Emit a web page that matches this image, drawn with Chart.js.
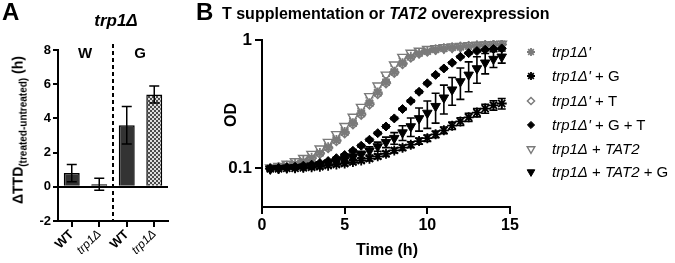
<!DOCTYPE html>
<html>
<head>
<meta charset="utf-8">
<script src="https://cdn.jsdelivr.net/npm/chart.js@4.4.1/dist/chart.umd.min.js"></script>
<style>
  body { margin: 0; background: #fff; font-family: "Liberation Sans", Arial, sans-serif; }
  #wrap { position: relative; width: 675px; height: 263px; overflow: hidden; }
  .abs { position: absolute; white-space: nowrap; color: #000; }
  .b { font-weight: bold; }
  .i { font-style: italic; }
  #legend .row { position: absolute; left: 522px; width: 153px; height: 20px; font-size: 15px; line-height: 20px; white-space: nowrap; }
  #legend canvas { position: absolute; left: 0; top: 0; }
  #legend span.t { position: absolute; left: 30px; top: 0; white-space: nowrap; }
</style>
</head>
<body>
<div id="wrap">
  <div style="position:absolute;left:0;top:0;width:195px;height:263px"><canvas id="chartA"></canvas></div>
  <div style="position:absolute;left:195px;top:0;width:330px;height:263px"><canvas id="chartB"></canvas></div>

  <div class="abs b" style="left:2px;top:-2px;font-size:24px">A</div>
  <div class="abs b i" style="left:116px;top:11px;font-size:17px;transform:translateX(-50%)">trp1Δ</div>
  <div class="abs b" style="left:85px;top:44px;font-size:15px;transform:translateX(-50%)">W</div>
  <div class="abs b" style="left:140px;top:44px;font-size:15px;transform:translateX(-50%)">G</div>
  <div class="abs b" style="left:19px;top:130px;font-size:14px;transform:translate(-50%,-50%) rotate(-90deg)">ΔTTD<sub style="font-size:10px">(treated-untreated)</sub> (h)</div>

  <div class="abs b" style="left:196px;top:-2px;font-size:24px">B</div>
  <div class="abs b" style="left:222px;top:5px;font-size:16px">T supplementation or <span class="i">TAT2</span> overexpression</div>
  <div class="abs b" style="left:231px;top:115px;font-size:16px;transform:translate(-50%,-50%) rotate(-90deg)">OD</div>
  <div class="abs b" style="left:387px;top:241px;font-size:16px;transform:translateX(-50%)">Time (h)</div>

  <div id="legend"></div>
</div>
<script>
// panel A
const groupsA = ["WT", "trp1Δ", "WT", "trp1Δ"];
const meanA = [0.8, 0.15, 3.6, 5.4];
const errA = [0.5, 0.35, 1.1, 0.5];

// panel B
const times = [0.5, 1, 1.5, 2, 2.5, 3, 3.5, 4, 4.5, 5, 5.5, 6, 6.5, 7, 7.5, 8, 8.5, 9, 9.5, 10, 10.5, 11, 11.5, 12, 12.5, 13, 13.5, 14, 14.5];
const trp = [0.100, 0.102, 0.105, 0.109, 0.114, 0.121, 0.132, 0.146, 0.166, 0.192, 0.225, 0.268, 0.322, 0.390, 0.470, 0.565, 0.660, 0.740, 0.790, 0.820, 0.845, 0.860, 0.875, 0.885, 0.895, 0.905, 0.912, 0.918, 0.925];
const trpErr = [0.002, 0.002, 0.003, 0.003, 0.003, 0.004, 0.004, 0.005, 0.006, 0.007, 0.008, 0.010, 0.012, 0.014, 0.016, 0.018, 0.020, 0.020, 0.018, 0.016, 0.015, 0.014, 0.013, 0.012, 0.012, 0.011, 0.011, 0.010, 0.010];
const trpG = [0.099, 0.099, 0.100, 0.100, 0.101, 0.102, 0.103, 0.105, 0.107, 0.109, 0.112, 0.115, 0.119, 0.124, 0.130, 0.138, 0.145, 0.153, 0.163, 0.172, 0.184, 0.198, 0.215, 0.232, 0.250, 0.272, 0.292, 0.310, 0.320];
const trpGErr = [0.002, 0.002, 0.002, 0.002, 0.002, 0.003, 0.003, 0.003, 0.003, 0.004, 0.004, 0.004, 0.005, 0.005, 0.006, 0.006, 0.007, 0.008, 0.009, 0.010, 0.011, 0.012, 0.014, 0.016, 0.018, 0.020, 0.023, 0.026, 0.030];
const trpT = [0.100, 0.102, 0.104, 0.108, 0.113, 0.120, 0.130, 0.144, 0.163, 0.188, 0.221, 0.262, 0.315, 0.380, 0.460, 0.555, 0.650, 0.730, 0.785, 0.815, 0.840, 0.858, 0.872, 0.883, 0.893, 0.902, 0.910, 0.916, 0.922];
const trpTErr = [0.002, 0.002, 0.002, 0.003, 0.003, 0.003, 0.004, 0.004, 0.005, 0.006, 0.007, 0.008, 0.010, 0.012, 0.014, 0.016, 0.017, 0.017, 0.016, 0.015, 0.014, 0.013, 0.012, 0.012, 0.011, 0.011, 0.010, 0.010, 0.010];
const trpGT = [0.100, 0.101, 0.102, 0.103, 0.105, 0.107, 0.110, 0.114, 0.120, 0.127, 0.137, 0.150, 0.167, 0.188, 0.212, 0.245, 0.290, 0.335, 0.395, 0.460, 0.535, 0.600, 0.665, 0.740, 0.790, 0.820, 0.840, 0.850, 0.860];
const trpGTErr = [0.001, 0.001, 0.001, 0.001, 0.002, 0.002, 0.002, 0.002, 0.002, 0.003, 0.003, 0.003, 0.004, 0.004, 0.005, 0.005, 0.006, 0.007, 0.008, 0.009, 0.010, 0.011, 0.012, 0.012, 0.012, 0.011, 0.010, 0.010, 0.010];
const tat2 = [0.101, 0.104, 0.108, 0.113, 0.120, 0.129, 0.142, 0.160, 0.184, 0.213, 0.251, 0.300, 0.364, 0.440, 0.535, 0.641, 0.736, 0.791, 0.822, 0.846, 0.859, 0.874, 0.885, 0.895, 0.907, 0.913, 0.918, 0.924, 0.930];
const tat2Err = [0.002, 0.002, 0.002, 0.003, 0.003, 0.003, 0.004, 0.004, 0.005, 0.006, 0.007, 0.008, 0.009, 0.010, 0.012, 0.013, 0.013, 0.012, 0.011, 0.010, 0.010, 0.009, 0.009, 0.009, 0.008, 0.008, 0.008, 0.008, 0.008];
const tat2G = [0.099, 0.100, 0.101, 0.102, 0.103, 0.105, 0.107, 0.110, 0.113, 0.117, 0.122, 0.128, 0.137, 0.148, 0.160, 0.172, 0.190, 0.212, 0.245, 0.270, 0.305, 0.355, 0.410, 0.475, 0.535, 0.600, 0.665, 0.710, 0.740];
const tat2GErr = [0.002, 0.002, 0.002, 0.003, 0.003, 0.003, 0.004, 0.004, 0.005, 0.006, 0.007, 0.008, 0.010, 0.012, 0.015, 0.018, 0.025, 0.035, 0.050, 0.065, 0.080, 0.090, 0.100, 0.130, 0.140, 0.140, 0.120, 0.100, 0.080];

const xTicksB = [0, 5, 10, 15];
const yTicksB = [0.1, 1];

const GREY = "#7a7a7a";

function checkerPattern() {
  const c = document.createElement("canvas");
  c.width = 4;
  c.height = 4;
  const g = c.getContext("2d");
  g.fillStyle = "#dcdcdc";
  g.fillRect(0, 0, 4, 4);
  g.fillStyle = "#4a4a4a";
  g.fillRect(0, 0, 2, 2);
  g.fillRect(2, 2, 2, 2);
  return c.getContext("2d").createPattern(c, "repeat");
}

// error bars drawn from dataset.errors through the chart scales
const errorBars = {
  id: "errorBars",
  beforeDatasetDraw(chart, args) {
    const ds = chart.data.datasets[args.index];
    if (!ds.errors) return;
    const meta = args.meta;
    const ys = chart.scales[meta.yAxisID];
    const ctx = chart.ctx;
    ctx.save();
    ctx.strokeStyle = ds.errColor || "#000";
    ctx.lineWidth = ds.errWidth || 1.5;
    meta.data.forEach((el, i) => {
      const v = ds.values[i];
      const e = ds.errors[i];
      const x = el.x;
      const yTop = ys.getPixelForValue(v + e);
      const yBot = ys.getPixelForValue(v - e);
      const cap = ds.capHalf || 4;
      ctx.beginPath();
      ctx.moveTo(x, yTop);
      ctx.lineTo(x, yBot);
      ctx.moveTo(x - cap, yTop);
      ctx.lineTo(x + cap, yTop);
      ctx.moveTo(x - cap, yBot);
      ctx.lineTo(x + cap, yBot);
      ctx.stroke();
    });
    ctx.restore();
  },
};

// A: error bars and the dashed W | G divider go on top of the bars
const errorBarsA = {
  id: "errorBarsA",
  afterDatasetsDraw(chart) {
    const meta = chart.getDatasetMeta(0);
    const ys = chart.scales.y;
    const ctx = chart.ctx;
    ctx.save();
    ctx.strokeStyle = "#000";
    ctx.lineWidth = 1.5;
    meta.data.forEach((el, i) => {
      const x = el.x;
      const yTop = ys.getPixelForValue(meanA[i] + errA[i]);
      const yBot = ys.getPixelForValue(meanA[i] - errA[i]);
      ctx.beginPath();
      ctx.moveTo(x, yTop);
      ctx.lineTo(x, yBot);
      ctx.moveTo(x - 5, yTop);
      ctx.lineTo(x + 5, yTop);
      ctx.moveTo(x - 5, yBot);
      ctx.lineTo(x + 5, yBot);
      ctx.stroke();
    });
    const xs = chart.scales.x;
    const xm = (xs.getPixelForValue(1) + xs.getPixelForValue(2)) / 2;
    ctx.lineWidth = 2;
    ctx.setLineDash([4, 3]);
    ctx.beginPath();
    ctx.moveTo(xm, chart.chartArea.top - 6);
    ctx.lineTo(xm, chart.chartArea.bottom);
    ctx.stroke();
    ctx.restore();
  },
};

new Chart(document.getElementById("chartA"), {
  type: "bar",
  data: {
    labels: groupsA,
    datasets: [
      {
        data: meanA,
        backgroundColor: ["#333", "#333", "#333", checkerPattern()],
        borderColor: "#000",
        borderWidth: 1.5,
        barPercentage: 0.58,
        categoryPercentage: 1,
      },
    ],
  },
  options: {
    responsive: true,
    maintainAspectRatio: false,
    animation: false,
    layout: { padding: { left: 0, right: 27, top: 50, bottom: 0 } },
    plugins: { legend: { display: false }, tooltip: { enabled: false } },
    scales: {
      x: {
        afterFit(scale) { scale.height = 42; },
        border: { display: true, color: "#000", width: 2 },
        grid: { drawOnChartArea: false, offset: false, tickLength: 6, color: "#000", lineWidth: 2 },
        ticks: {
          color: "#000",
          minRotation: 45,
          maxRotation: 45,
          padding: 0,
          font: (c) => ({
            family: "Liberation Sans",
            size: c.index % 2 ? 12 : 13,
            weight: c.index % 2 ? "normal" : "bold",
            style: c.index % 2 ? "italic" : "normal",
          }),
        },
      },
      y: {
        min: -2,
        max: 8,
        afterFit(scale) { scale.width = 58; },
        border: { display: true, color: "#000", width: 2 },
        grid: {
          drawOnChartArea: true,
          color: (c) => (c.tick && c.tick.value === 0 ? "#000" : "rgba(0,0,0,0)"),
          tickColor: "#000",
          lineWidth: 2,
          tickLength: 5,
        },
        ticks: {
          stepSize: 2,
          color: "#000",
          padding: 2,
          font: { family: "Liberation Sans", size: 13, weight: "bold" },
        },
      },
    },
  },
  plugins: [errorBarsA],
});

function pts(values) {
  return values.map((v, i) => ({ x: times[i], y: v }));
}

const seriesB = [
  { label: "trp1Δ + TAT2", values: tat2, errors: tat2Err, pointStyle: "triangle", rotation: 180, radius: 5.5, bg: "#fff", border: GREY, bw: 1.4, errColor: GREY, order: 6 },
  { label: "trp1Δ' + T", values: trpT, errors: trpTErr, pointStyle: "rectRot", rotation: 0, radius: 4.5, bg: "#fff", border: GREY, bw: 1.4, errColor: GREY, order: 7 },
  { label: "trp1Δ'", values: trp, errors: trpErr, pointStyle: "star", rotation: 0, radius: 5, bg: GREY, border: GREY, bw: 1.8, errColor: GREY, order: 5 },
  { label: "trp1Δ' + G + T", values: trpGT, errors: trpGTErr, pointStyle: "rectRot", rotation: 0, radius: 4.5, bg: "#000", border: "#000", bw: 1, errColor: "#000", order: 3 },
  { label: "trp1Δ + TAT2 + G", values: tat2G, errors: tat2GErr, pointStyle: "triangle", rotation: 180, radius: 5.5, bg: "#000", border: "#000", bw: 1, errColor: "#000", order: 2 },
  { label: "trp1Δ' + G", values: trpG, errors: trpGErr, pointStyle: "star", rotation: 0, radius: 5, bg: "#000", border: "#000", bw: 1.8, errColor: "#000", order: 1 },
];

new Chart(document.getElementById("chartB"), {
  type: "scatter",
  data: {
    datasets: seriesB.map((s) => ({
      label: s.label,
      data: pts(s.values),
      values: s.values,
      errors: s.errors,
      errColor: s.errColor,
      errWidth: 1.6,
      capHalf: 4,
      order: s.order,
      pointStyle: s.pointStyle,
      pointRotation: s.rotation,
      pointRadius: s.radius,
      backgroundColor: s.bg,
      borderColor: s.border,
      borderWidth: s.bw,
    })),
  },
  options: {
    responsive: true,
    maintainAspectRatio: false,
    animation: false,
    layout: { padding: { left: 0, right: 15, top: 40, bottom: 0 } },
    plugins: { legend: { display: false }, tooltip: { enabled: false } },
    scales: {
      x: {
        type: "linear",
        min: 0,
        max: 15,
        afterFit(scale) { scale.height = 56; },
        afterBuildTicks(scale) { scale.ticks = xTicksB.map((v) => ({ value: v })); },
        border: { display: true, color: "#000", width: 2 },
        grid: { drawOnChartArea: false, tickLength: 7, color: "#000", lineWidth: 2 },
        ticks: { color: "#000", padding: 2, font: { family: "Liberation Sans", size: 16, weight: "bold" } },
      },
      y: {
        type: "logarithmic",
        min: 0.05,
        max: 1,
        afterFit(scale) { scale.width = 67; },
        afterBuildTicks(scale) { scale.ticks = yTicksB.map((v) => ({ value: v })); },
        border: { display: true, color: "#000", width: 2 },
        grid: { drawOnChartArea: false, tickLength: 7, color: "#000", lineWidth: 2 },
        ticks: {
          color: "#000",
          padding: 3,
          callback: (v) => String(v),
          font: { family: "Liberation Sans", size: 17, weight: "bold" },
        },
      },
    },
  },
  plugins: [errorBars],
});

// legend: text as html, markers drawn with the chart.js point helper
const legendOrder = ["trp1Δ'", "trp1Δ' + G", "trp1Δ' + T", "trp1Δ' + G + T", "trp1Δ + TAT2", "trp1Δ + TAT2 + G"];
const legendTop = [42, 66, 91, 115, 139, 162];
const legendEl = document.getElementById("legend");
legendOrder.forEach((name, k) => {
  const s = seriesB.find((d) => d.label === name);
  const row = document.createElement("div");
  row.className = "row";
  row.style.top = legendTop[k] + "px";
  const cv = document.createElement("canvas");
  cv.width = 20;
  cv.height = 20;
  row.appendChild(cv);
  const g = cv.getContext("2d");
  g.fillStyle = s.bg;
  g.strokeStyle = s.border;
  g.lineWidth = s.bw;
  Chart.helpers.drawPoint(g, { pointStyle: s.pointStyle, rotation: s.rotation, radius: s.radius * 0.8, borderWidth: s.bw }, 9, 10);
  const t = document.createElement("span");
  t.className = "t";
  const parts = name.split(" + ");
  let html = '<span class="i">' + parts[0] + "</span>";
  parts.slice(1).forEach((p) => {
    html += " + " + (p === "TAT2" ? '<span class="i">TAT2</span>' : p);
  });
  t.innerHTML = html;
  row.appendChild(t);
  legendEl.appendChild(row);
});
</script>
</body>
</html>
